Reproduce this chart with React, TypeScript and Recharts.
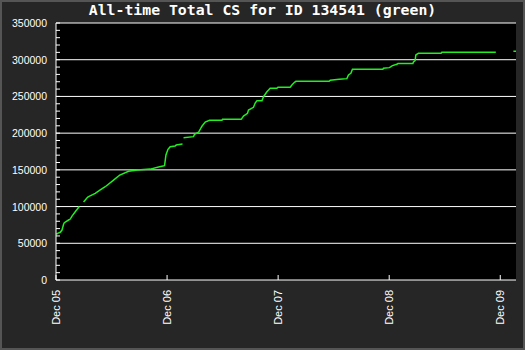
import { LineChart, Line, XAxis, YAxis, CartesianGrid, ReferenceLine } from 'recharts';

// months since Dec 2005, cumulative CS (null = gap in the record)
const months = [
  0.03, 0.17, 0.46, 0.65, 0.82, 0.9, 1.36, 1.54, 1.73, 2.08, 2.52, 2.7,
  2.98, 3.41, 3.52, 4.24, 4.43, 4.78, 5.32, 6.22, 6.76, 6.84, 7.84, 8.81,
  10.18, 11.19, 11.73, 11.88, 12.1, 12.34, 12.88, 12.99, 13.67, 13.73,
  13.78, 14.86, 14.97, 15.4, 15.77, 16.12, 16.59, 17.93, 17.99, 20.01,
  20.26, 20.69, 20.8, 21.34, 21.52, 21.71, 22.25, 22.42, 22.79, 23.14,
  23.87, 23.98, 25.3, 25.49, 25.77, 25.92, 29.52, 29.63, 30.6, 31.43,
  31.6, 31.86, 32.03, 35.32, 35.38, 36.03, 36.35, 36.83, 36.94, 38.56,
  38.62, 38.8, 38.88, 39.05, 39.16, 41.61, 41.68, 47.52, 48.0, 49.42, 49.7,
];
const totals: (number | null)[] = [
  62200, 63600, 65000, 68000, 76000, 78000, 81700, 83000, 87000, 93000, 100000, null,
  106300, 112600, 113500, 118000, 119800, 122600, 127000, 136000, 141600, 142500, 148000, 149800,
  151000, 154300, 155700, 170200, 178000, 181600, 182500, 183900, 185200, null,
  193800, 195200, 198400, 201200, 209500, 215000, 217400, 217400, 218800, 218800,
  223300, 227000, 231500, 235200, 241000, 244200, 244200, 249600, 256400, 261000,
  261000, 262400, 262400, 265600, 269200, 270600, 270600, 272000, 273300, 274200,
  279200, 281400, 286900, 286900, 288300, 289200, 292000, 293800, 294800, 294800,
  296900, 298700, 306400, 307900, 308700, 308700, 310000, 310000, null, 311500, 311500,
];
const xTicks = [0, 12, 24, 36, 48];
const xLabels = ['Dec 05', 'Dec 06', 'Dec 07', 'Dec 08', 'Dec 09'];
const yTicks = Array.from({ length: 36 }, (_, i) => i * 10000);
const yMajor = [50000, 100000, 150000, 200000, 250000, 300000, 350000];

const data = months.map((m, i) => ({ m, cs: totals[i] }));

const tickFont = '"Liberation Sans", Arial, sans-serif';

const YTick = (props: any) => {
  const { x, y, payload } = props;
  const major = payload.value % 50000 === 0;
  return (
    <g>
      <line x1={x} x2={x + 4} y1={y} y2={y} stroke="#fff" />
      {major && (
        <text x={x - 9} y={y} dy={4} textAnchor="end" fill="#fff" fontSize={10.5} fontFamily={tickFont}>
          {payload.value}
        </text>
      )}
    </g>
  );
};

const XTick = (props: any) => {
  const { x, y, payload } = props;
  const label = xLabels[xTicks.indexOf(payload.value)];
  return (
    <g>
      <line x1={x} x2={x} y1={y} y2={y - 5} stroke="#fff" />
      <text
        transform={`translate(${x + 4}, ${y + 10}) rotate(-90)`}
        textAnchor="end"
        fill="#fff"
        fontSize={11}
        fontFamily={tickFont}
      >
        {label}
      </text>
    </g>
  );
};

export default function App() {
  return (
    <div
      style={{
        position: 'absolute',
        left: 0,
        top: 0,
        width: 525,
        height: 350,
        background: '#262626',
        boxShadow: 'inset 0 0 0 2px #555555',
      }}
    >
      <div
        style={{
          position: 'absolute',
          left: 0,
          top: 1,
          width: 525,
          textAlign: 'center',
          color: '#fff',
          fontFamily: '"DejaVu Sans Mono", monospace',
          fontWeight: 'bold',
          fontSize: 14.8,
          lineHeight: '18px',
        }}
      >
        All-time Total CS for ID 134541 (green)
      </div>
      <LineChart width={525} height={350} data={data} margin={{ top: 23, right: 9, bottom: 0, left: 0 }}>
        <CartesianGrid horizontal={false} vertical={false} fill="#000" />
        {yMajor.map((v) => (
          <ReferenceLine key={v} y={v} stroke="#ffffff" strokeWidth={1} ifOverflow="extendDomain" />
        ))}
        <XAxis
          dataKey="m"
          type="number"
          domain={[0, 49.7]}
          ticks={xTicks}
          interval={0}
          height={70}
          tickSize={0}
          tickMargin={0}
          axisLine={{ stroke: '#fff' }}
          tickLine={false}
          tick={<XTick />}
          allowDataOverflow
        />
        <YAxis
          type="number"
          domain={[0, 350000]}
          ticks={yTicks}
          interval={0}
          width={56}
          tickSize={0}
          tickMargin={0}
          axisLine={{ stroke: '#fff' }}
          tickLine={false}
          tick={<YTick />}
          allowDataOverflow
        />
        <Line
          type="linear"
          dataKey="cs"
          stroke="#22ee22"
          strokeWidth={1.5}
          dot={false}
          isAnimationActive={false}
        />
      </LineChart>
    </div>
  );
}
